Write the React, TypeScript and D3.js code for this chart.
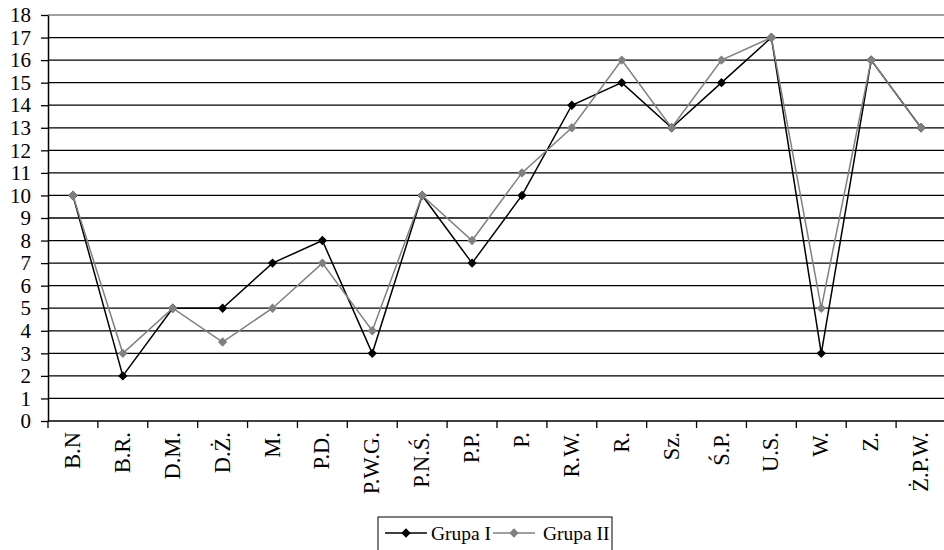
import React, { useEffect, useRef } from 'react';
import * as d3 from 'd3';

const categories = ['B.N', 'B.R.', 'D.M.', 'D.Ż.', 'M.', 'P.D.', 'P.W.G.', 'P.N.Ś.', 'P.P.', 'P.', 'R.W.', 'R.', 'Sz.', 'Ś.P.', 'U.S.', 'W.', 'Z.', 'Ż.P.W.'];
const grupaI = [10, 2, 5, 5, 7, 8, 3, 10, 7, 10, 14, 15, 13, 15, 17, 3, 16, 13];
const grupaII = [10, 3, 5, 3.5, 5, 7, 4, 10, 8, 11, 13, 16, 13, 16, 17, 5, 16, 13];
const yTicks = d3.range(0, 19);

const series = [
  { name: 'Grupa I', values: grupaI, color: '#000000' },
  { name: 'Grupa II', values: grupaII, color: '#808080' },
];

const App: React.FC = () => {
  const svgRef = useRef<SVGSVGElement>(null);

  useEffect(() => {
    if (!svgRef.current) return;
    const svg = d3.select(svgRef.current);
    svg.selectAll('*').remove();

    const font = '"Liberation Serif", "Times New Roman", serif';
    const left = 48, top = 15, bottom = 421, right = 946;

    const x = d3.scaleBand().domain(categories).range([left, right]);
    const y = d3.scaleLinear().domain([0, 18]).range([bottom, top]);

    // gridlines
    svg.append('g')
      .selectAll('line')
      .data(yTicks.filter(d => d > 0))
      .join('line')
      .attr('x1', left).attr('x2', right)
      .attr('y1', d => y(d)).attr('y2', d => y(d))
      .attr('stroke', d => (d === 18 ? '#808080' : '#000'))
      .attr('stroke-width', 1.3);

    // y axis
    const yAxis = svg.append('g')
      .attr('transform', `translate(${left},0)`)
      .call(d3.axisLeft(y).tickValues(yTicks).tickSize(7).tickSizeOuter(0).tickPadding(10));
    yAxis.select('.domain').attr('stroke', '#000').attr('stroke-width', 1.5);
    yAxis.selectAll('.tick line').attr('stroke', '#000').attr('stroke-width', 1.3);
    yAxis.selectAll('.tick text')
      .attr('fill', '#000')
      .attr('font-family', font)
      .attr('font-size', 21);

    // x axis
    const xAxis = svg.append('g')
      .attr('transform', `translate(0,${bottom})`);
    xAxis.append('line')
      .attr('x1', left).attr('x2', right)
      .attr('stroke', '#000').attr('stroke-width', 1.5);
    xAxis.selectAll('line.tk')
      .data(categories)
      .join('line')
      .attr('class', 'tk')
      .attr('x1', d => x(d)!).attr('x2', d => x(d)!)
      .attr('y1', 0).attr('y2', 7)
      .attr('stroke', '#000').attr('stroke-width', 1.3);
    xAxis.selectAll('text')
      .data(categories)
      .join('text')
      .attr('transform', d => `translate(${x(d)! + x.bandwidth() / 2 + 7},11) rotate(-90)`)
      .attr('text-anchor', 'end')
      .attr('font-family', font)
      .attr('font-size', 22.5)
      .attr('fill', '#000')
      .text(d => d);

    const line = d3.line<number>()
      .x((_, i) => x(categories[i])! + x.bandwidth() / 2)
      .y(d => y(d));
    const diamond = d3.symbol().type(d3.symbolDiamond2).size(56);

    series.forEach(s => {
      svg.append('path')
        .datum(s.values)
        .attr('fill', 'none')
        .attr('stroke', s.color)
        .attr('stroke-width', 1.5)
        .attr('d', line);
      svg.append('g')
        .selectAll('path')
        .data(s.values)
        .join('path')
        .attr('transform', (d, i) => `translate(${x(categories[i])! + x.bandwidth() / 2},${y(d)})`)
        .attr('d', diamond()!)
        .attr('fill', s.color);
    });

    // legend
    const lg = svg.append('g').attr('transform', 'translate(378,517)');
    lg.append('rect')
      .attr('width', 234).attr('height', 36)
      .attr('fill', '#fff').attr('stroke', '#000').attr('stroke-width', 1);
    const items = [
      { s: series[0], x0: 7, tx: 53 },
      { s: series[1], x0: 115, tx: 165 },
    ];
    items.forEach(({ s, x0, tx }) => {
      lg.append('line')
        .attr('x1', x0).attr('x2', x0 + 42)
        .attr('y1', 16).attr('y2', 16)
        .attr('stroke', s.color).attr('stroke-width', 1.5);
      lg.append('path')
        .attr('transform', `translate(${x0 + 21},16)`)
        .attr('d', diamond()!)
        .attr('fill', s.color);
      lg.append('text')
        .attr('x', tx).attr('y', 23)
        .attr('font-family', font)
        .attr('font-size', 19.5)
        .attr('fill', '#000')
        .text(s.name);
    });
  }, []);

  return (
    <div style={{ position: 'absolute', left: 0, top: 0, width: 944, height: 550, background: '#fff', overflow: 'hidden' }}>
      <svg ref={svgRef} width={944} height={550} style={{ display: 'block' }} />
    </div>
  );
};

export default App;
